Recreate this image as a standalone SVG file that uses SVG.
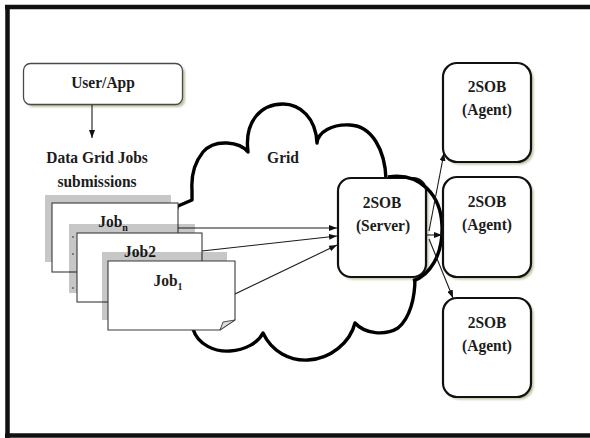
<svg xmlns="http://www.w3.org/2000/svg" width="590" height="438" viewBox="0 0 590 438">
  <defs>
    <style>
      .frame { stroke: #111; stroke-width: 4.5; fill: none; }
      .lbl { font-family: "Liberation Serif", "Times New Roman", serif; font-weight: bold; font-size: 15.5px; fill: #1c1c1c; text-anchor: middle; }
      .sub { font-size: 10px; }
      .box { fill: #fff; stroke: #111; stroke-width: 2.2; }
      .appbox { fill: #fff; stroke: #4a4a4a; stroke-width: 1.3; }
      .shade { fill: #a9b486; opacity: 0.8; filter: url(#soft); }
      .card { fill: #fff; stroke: #3a3a3a; stroke-width: 1.1; }
      .cardshadow { fill: #000; opacity: 0.22; }
      .cloud { fill: none; stroke: #000; stroke-width: 3.4; stroke-linejoin: round; }
      .conn { stroke: #1a1a1a; stroke-width: 1.1; fill: none; marker-end: url(#head); }
    </style>
    <filter id="soft" x="-10%" y="-10%" width="120%" height="120%">
      <feGaussianBlur stdDeviation="1.1"/>
    </filter>
    <marker id="head" viewBox="0 0 8 6" refX="8" refY="3" markerWidth="8" markerHeight="6" markerUnits="userSpaceOnUse" orient="auto">
      <path d="M0,0 L8,3 L0,6 Z" fill="#111"/>
    </marker>
  </defs>

  <rect width="590" height="438" fill="#fff"/>

  <!-- outer frame (top, left, bottom) -->
  <path class="frame" d="M5,7 H590 M7.5,5 V438 M5,435.5 H590"/>

  <!-- grid cloud outline -->
  <g id="grid-cloud">
    <path class="cloud" d="M193,329
      C198,345 215,352 230,351 C245,350 258,343 263,333
      C272,352 290,361 308,360 C330,359 350,343 355,323
      C365,334 385,336 398,328 C410,318 415,298 415,278
      L400,230 L386,179
      C385,150 372,126 350,125 C332,124 318,132 317,143
      C316,118 300,104 283,104 C262,104 244,120 248,152
      C240,142 215,138 203,152 C195,162 191,175 192,190
      L192,200 L178,206 L160,240 L160,300 Z"/>
    <text class="lbl" transform="translate(283 163) scale(1 1.1)">Grid</text>
  </g>

  <!-- user / application -->
  <g id="user-app">
    <rect class="shade" x="26" y="66" width="159" height="41" rx="7"/>
    <rect class="appbox" x="23.5" y="63.5" width="159" height="41" rx="7"/>
    <text class="lbl" transform="translate(103 88) scale(1 1.1)">User/App</text>
  </g>

  <g id="submissions-label">
    <text class="lbl" transform="translate(97 163) scale(1 1.1)">Data Grid Jobs</text>
    <text class="lbl" transform="translate(97 187) scale(1 1.1)">submissions</text>
  </g>

  <!-- stacked job sheets -->
  <g id="job-n">
    <rect class="cardshadow" x="45" y="195" width="126" height="67"/>
    <rect class="card" x="52" y="203" width="126" height="69"/>
    <text class="lbl" transform="translate(113 227) scale(1 1.1)">Job<tspan class="sub" dy="4">n</tspan></text>
  </g>
  <g id="job-2">
    <rect class="cardshadow" x="69" y="224" width="126" height="69"/>
    <rect class="card" x="77" y="233" width="125" height="69"/>
    <text class="lbl" transform="translate(140 257) scale(1 1.1)">Job2</text>
    <circle cx="73" cy="237" r="0.9" fill="#555"/>
    <circle cx="73" cy="254" r="0.9" fill="#555"/>
    <circle cx="73" cy="288" r="0.9" fill="#555"/>
  </g>
  <g id="job-1">
    <rect class="cardshadow" x="102" y="252" width="125" height="68"/>
    <path class="card" d="M108,261 H235 V320 L220,330 H108 Z"/>
    <path d="M220,330 L223,322 L235,320 Z" fill="#ddd" stroke="#3a3a3a" stroke-width="0.9"/>
    <text class="lbl" transform="translate(168 286) scale(1 1.1)">Job<tspan class="sub" dy="4">1</tspan></text>
  </g>

  <!-- broker server -->
  <g id="server">
    <rect class="shade" x="340.5" y="180.5" width="88" height="99" rx="13"/>
    <rect class="box" x="338" y="178" width="88" height="99" rx="13"/>
    <text class="lbl" transform="translate(382 208) scale(1 1.1)">2SOB</text>
    <text class="lbl" transform="translate(383 231) scale(1 1.1)">(Server)</text>
  </g>

  <!-- cloud lobe passing over the server's right side -->
  <path class="cloud" d="M388,177 C420,172 441,195 442,226 C443,255 430,275 413,281"/>

  <!-- agents -->
  <g id="agent-1">
    <rect class="shade" x="445.5" y="65.5" width="88" height="99" rx="14"/>
    <rect class="box" x="443" y="63" width="88" height="99" rx="14"/>
    <text class="lbl" transform="translate(487 92) scale(1 1.1)">2SOB</text>
    <text class="lbl" transform="translate(487 115) scale(1 1.1)">(Agent)</text>
  </g>
  <g id="agent-2">
    <rect class="shade" x="445.5" y="179.5" width="88" height="100" rx="14"/>
    <rect class="box" x="443" y="177" width="88" height="100" rx="14"/>
    <text class="lbl" transform="translate(487 207) scale(1 1.1)">2SOB</text>
    <text class="lbl" transform="translate(487 230) scale(1 1.1)">(Agent)</text>
  </g>
  <g id="agent-3">
    <rect class="shade" x="445.5" y="300.5" width="88" height="99" rx="14"/>
    <rect class="box" x="443" y="298" width="88" height="99" rx="14"/>
    <text class="lbl" transform="translate(487 328) scale(1 1.1)">2SOB</text>
    <text class="lbl" transform="translate(487 351) scale(1 1.1)">(Agent)</text>
  </g>

  <!-- connectors -->
  <g id="connectors">
    <path class="conn" d="M92,105 V138"/>
    <path class="conn" d="M178,228 H337"/>
    <path class="conn" d="M202,251 L337,236"/>
    <path class="conn" d="M235,294 L337,245"/>
    <path class="conn" d="M429,231 L444,153"/>
    <path class="conn" d="M427,235 H442"/>
    <path class="conn" d="M429,239 L453,298"/>
  </g>
</svg>
